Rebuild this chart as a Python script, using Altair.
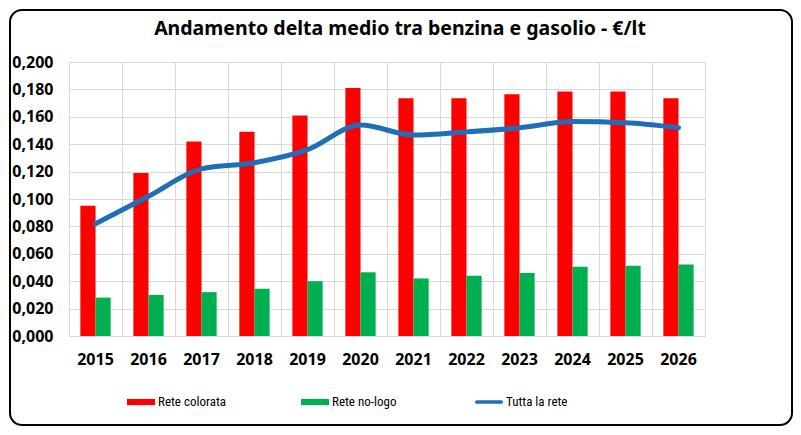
import altair as alt
import pandas as pd

years = ["2015", "2016", "2017", "2018", "2019", "2020", "2021", "2022", "2023", "2024", "2025", "2026"]
rete_colorata = [0.095, 0.119, 0.142, 0.149, 0.161, 0.181, 0.1735, 0.1735, 0.1765, 0.1785, 0.1785, 0.1735]
rete_nologo = [0.028, 0.030, 0.032, 0.0345, 0.040, 0.0465, 0.042, 0.044, 0.046, 0.0505, 0.0512, 0.0522]
tutta_la_rete = [0.082, 0.102, 0.122, 0.1265, 0.136, 0.154, 0.1467, 0.149, 0.152, 0.1565, 0.1557, 0.152]

series = ["Rete colorata", "Rete no-logo", "Tutta la rete"]
colors = ["#FF0000", "#00B050", "#1F6FB8"]
y_ticks = [0.0, 0.02, 0.04, 0.06, 0.08, 0.10, 0.12, 0.14, 0.16, 0.18, 0.20]

bars = pd.DataFrame(
    [{"anno": y, "serie": series[0], "valore": v} for y, v in zip(years, rete_colorata)]
    + [{"anno": y, "serie": series[1], "valore": v} for y, v in zip(years, rete_nologo)]
)
line = pd.DataFrame({"anno": years, "serie": series[2], "valore": tutta_la_rete})
legend_rows = pd.DataFrame({"anno": [years[0]] * 3, "serie": series, "valore": [None] * 3})

W, H = 636, 274

RECT = "M-1,-0.22L1,-0.22L1,0.22L-1,0.22Z"
LINE = "M-0.87,-0.13L0.87,-0.13A0.13,0.13 0 0 1 0.87,0.13L-0.87,0.13A0.13,0.13 0 0 1 -0.87,-0.13Z"

color_scale = alt.Scale(domain=series, range=colors)
shape_scale = alt.Scale(domain=series, range=[RECT, RECT, LINE])

legend = alt.Legend(
    title=None,
    orient="none",
    legendX=58,
    legendY=326,
    direction="horizontal",
    columns=3,
    gridAlign="all",
    columnPadding=75,
    symbolSize=784,
    symbolStrokeWidth=0,
    symbolOpacity=1,
    labelFont="Liberation Sans Narrow, Roboto Condensed, Roboto",
    labelFontSize=13,
    labelColor="#000000",
    labelOffset=3,
)

x_enc = alt.X(
    "anno:N",
    sort=years,
    scale=alt.Scale(paddingInner=0, paddingOuter=0),
    axis=alt.Axis(
        title=None,
        bandPosition=0,
        grid=True,
        ticks=False,
        domain=False,
        labelAngle=0,
        labelFont="Noto Sans",
        labelFontWeight="bold",
        labelFontSize=16,
        labelColor="#000000",
        labelPadding=15,
    ),
)
y_enc = alt.Y(
    "valore:Q",
    scale=alt.Scale(domain=[0, 0.2], nice=False),
    axis=alt.Axis(
        title=None,
        values=y_ticks,
        labelExpr="replace(format(datum.value, '.3f'), '.', ',')",
        labelOverlap=False,
        ticks=False,
        domain=False,
        grid=True,
        labelFont="Noto Sans",
        labelFontWeight="bold",
        labelFontSize=16,
        labelColor="#000000",
        labelPadding=16,
    ),
)

legend_layer = alt.Chart(legend_rows).mark_point(filled=True, opacity=1).encode(
    x=x_enc,
    y=y_enc,
    color=alt.Color("serie:N", scale=color_scale, legend=legend),
    shape=alt.Shape("serie:N", scale=shape_scale, legend=legend),
)

bar_layer = alt.Chart(bars).mark_bar().encode(
    x=x_enc,
    y=y_enc,
    xOffset=alt.XOffset("serie:N", sort=series[:2], scale=alt.Scale(paddingOuter=0.75, paddingInner=0)),
    color=alt.Color("serie:N", scale=color_scale, legend=None),
)

line_layer = alt.Chart(line).mark_line(strokeWidth=5, strokeCap="round", interpolate="monotone").encode(
    x=x_enc,
    y=y_enc,
    color=alt.Color("serie:N", scale=color_scale, legend=None),
)

border = alt.Chart(pd.DataFrame({"a": [0]})).mark_rect(
    fillOpacity=0, stroke="#000000", strokeWidth=2, cornerRadius=12
).encode(
    x=alt.value(-59), x2=alt.value(723), y=alt.value(-52), y2=alt.value(363)
)

chart = (
    alt.layer(legend_layer, bar_layer, line_layer, border)
    .properties(
        width=W,
        height=H,
        autosize=alt.AutoSizeParams(type="none"),
        padding={"left": 61, "top": 54, "right": 88, "bottom": 91},
        background="#FFFFFF",
        title=alt.TitleParams(
            "Andamento delta medio tra benzina e gasolio - €/lt",
            font="Noto Sans",
            fontSize=19.5,
            fontWeight="bold",
            color="#000000",
            anchor="middle",
            dx=13,
            offset=-30,
        ),
    )
    .configure_view(stroke="#D9D9D9", strokeWidth=1)
    .configure_axis(gridColor="#D9D9D9", gridWidth=1)
)

chart.save("out.html", embed_options={"renderer": "svg", "actions": False})
